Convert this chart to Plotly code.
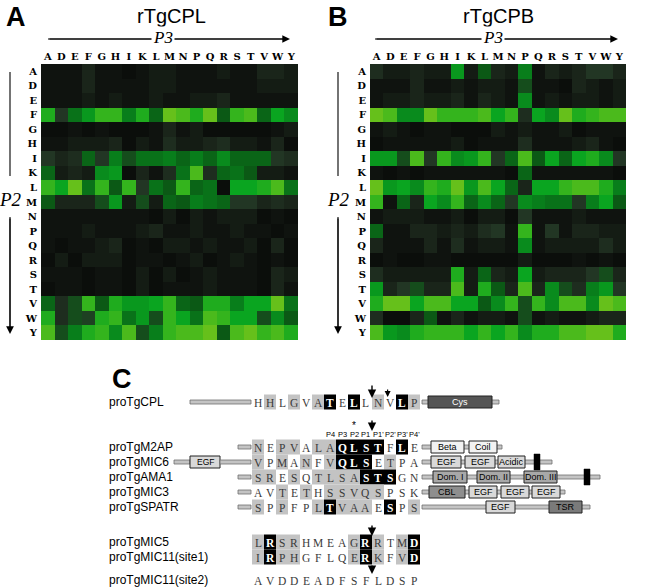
import plotly.graph_objects as go

W, H = 650, 588

AA = list("ADEFGHIKLMNPQRSTVWY")

# rTgCPL activity (rows = P2, columns = P3), relative intensity 0-10
cpl = [
    [1, 1, 1, 2, 1, 1, 0.5, 1, 1.5, 1.5, 1, 1, 1, 1.5, 1, 1, 2, 2, 1.5],
    [1, 1, 1, 2, 1, 1, 1, 1, 1.5, 1.5, 1, 1, 1, 1, 1, 1, 1.5, 1.5, 1.5],
    [1, 1, 1, 1.5, 1, 1.5, 1, 1, 1.5, 1, 1, 1.5, 1.5, 2, 1, 1, 1, 1, 1],
    [8, 3, 5.5, 7, 8.5, 8.5, 6, 8, 5, 9.5, 9, 8, 9.5, 4.5, 8.5, 9, 5, 7.5, 6.5],
    [0.5, 0.5, 1, 0.5, 1, 0.5, 0.5, 0.5, 1, 2, 1, 1.5, 0.5, 0.5, 0.5, 0.5, 0.5, 1, 1.5],
    [1, 1, 1.5, 1.5, 1.5, 2, 0.5, 1.5, 1, 2.5, 1.5, 1.5, 2, 2.5, 1.5, 1.5, 1, 2, 0.5],
    [3, 2, 2.5, 5, 3, 6, 4, 5.5, 5.5, 6, 5, 6, 5, 6.5, 5, 5, 5, 3, 2.5],
    [5, 1.5, 2, 1.5, 6.5, 7, 0.5, 2, 1, 2.5, 5.5, 9, 2.5, 5, 5.5, 4.5, 1.5, 1.5, 1],
    [8.5, 7.5, 9.5, 5.5, 8.5, 4.5, 8.5, 3, 5.5, 4.5, 8.5, 5, 5.5, 0.5, 7.5, 7.5, 8, 9, 5.5],
    [4.5, 2, 2, 2, 4, 7, 1.5, 4, 1.5, 5, 4.5, 6, 5.5, 5, 3, 3, 2, 2.5, 2],
    [1, 1, 1, 1, 1, 1, 1, 1, 0.5, 1.5, 0.5, 1.5, 1, 1.5, 1.5, 1.5, 0.5, 1, 0.5],
    [1, 1, 1, 1.5, 1, 1, 1, 1.5, 2, 1, 1, 1.5, 1, 1, 1.5, 1, 1, 0.5, 1],
    [1, 0.5, 1, 1, 1.5, 2, 0.5, 1, 0.5, 1.5, 1.5, 1, 1.5, 1, 1, 1.5, 0.5, 2, 0.5],
    [0.5, 1.5, 0.5, 1.5, 1.5, 1.5, 0.5, 1, 1, 0.5, 1, 1.5, 0.5, 1, 1.5, 1, 0.5, 1, 0.5],
    [1, 1, 1, 0.5, 1, 1, 0.5, 1.5, 0.5, 1.5, 0.5, 1, 1.5, 1, 1, 1, 0.5, 2, 1.5],
    [0.5, 1, 1, 0.5, 1, 1, 0.5, 1.5, 0.5, 1, 1, 1, 1.5, 1, 1, 1, 0.5, 2, 1],
    [5, 2.5, 4, 8.5, 4.5, 8, 7, 7, 7.5, 8.5, 5, 4.5, 8, 8, 6, 7.5, 7.5, 9.5, 5.5],
    [8, 2.5, 4, 3.5, 8, 8.5, 5.5, 7, 4, 8.5, 7.5, 5.5, 9, 8.5, 7.5, 7.5, 4, 6.5, 4.5],
    [9, 4, 6, 8, 8.5, 6.5, 9, 4, 6, 8.5, 9, 9, 9.5, 4.5, 9, 9.5, 8.5, 9, 8],
]

# rTgCPB activity
cpb = [
    [2.5, 1.5, 1.5, 2, 1.5, 1.5, 7, 1.5, 4.5, 2, 1.5, 6, 1, 2, 1.5, 2, 3, 3, 2],
    [1, 1, 1, 2, 1, 1, 1.5, 1, 1.5, 1.5, 1, 4, 1, 1, 0.5, 2, 1.5, 1, 1.5],
    [1, 1.5, 1.5, 2, 1.5, 1.5, 2, 1, 2, 1.5, 1, 6.5, 1, 1.5, 1, 1.5, 1.5, 1, 1.5],
    [9.5, 9, 6.5, 6.5, 9.5, 8.5, 8.5, 8.5, 9, 7.5, 8.5, 2.5, 7.5, 6.5, 9.5, 8, 8.5, 9, 9],
    [1, 1.5, 1, 0.5, 1, 1, 0.5, 0.5, 0.5, 1.5, 1, 1.5, 1, 1, 1.5, 0.5, 1, 1, 1],
    [0.5, 1, 1, 1, 1, 1, 1.5, 0.5, 1, 1, 1, 2.5, 1, 1, 1, 1.5, 2, 1, 0.5],
    [7, 7, 4, 9, 3, 8.5, 6.5, 7, 8.5, 3, 5, 9, 4.5, 7.5, 5, 7.5, 8, 6.5, 3],
    [1, 0.5, 1, 0.5, 1, 1, 1, 1, 1, 1, 0.5, 5, 1, 1, 1, 1, 1, 1, 0.5],
    [9.5, 7, 7.5, 6.5, 8.5, 8, 9.5, 7, 9, 7.5, 5, 2, 7.5, 7.5, 8.5, 9, 9, 8, 6],
    [8.5, 1, 5, 2, 7.5, 6.5, 8.5, 5, 6.5, 5, 3, 6.5, 6, 5.5, 5.5, 3, 6, 7.5, 4.5],
    [1, 1.5, 1.5, 1.5, 1, 1, 1.5, 0.5, 1.5, 1.5, 0.5, 3, 1, 1, 1, 1.5, 1, 1, 1],
    [5, 1, 1, 2, 2, 1.5, 2, 1.5, 2.5, 3, 1, 8.5, 1, 3, 1, 2, 2, 1.5, 1.5],
    [2, 1, 1, 1, 2, 1, 2.5, 1, 1.5, 1.5, 1, 6.5, 1, 1.5, 1.5, 1.5, 1.5, 2.5, 1.5],
    [0.5, 1, 0.5, 0.5, 1, 1, 0.5, 0.5, 0.5, 0.5, 0.5, 1.5, 0.5, 0.5, 0.5, 1, 0.5, 1, 0.5],
    [2.5, 1.5, 1.5, 1.5, 1.5, 1.5, 8, 1.5, 5, 2, 1.5, 7.5, 1.5, 2, 2, 2, 3, 4, 2],
    [7, 2, 3, 4, 2, 2, 9, 1.5, 8, 4.5, 2, 9, 2, 6.5, 4, 2.5, 6, 7, 3],
    [8, 9.5, 9.5, 7.5, 9, 9, 7.5, 7.5, 4.5, 6.5, 8.5, 4, 8.5, 6.5, 9, 9, 6.5, 9.5, 9],
    [2.5, 0.5, 0.5, 2, 4.5, 1, 2, 1, 1.5, 1.5, 1, 4, 1, 1.5, 1, 1, 1.5, 2, 2],
    [9, 7, 6.5, 8, 8.5, 8.5, 8.5, 7.5, 8.5, 7.5, 8.5, 6.5, 8, 8, 9, 9, 9.5, 9.5, 8],
]

# Panel C: sequences and shading (g = similar, b = identical, n = none)
seq_names = ["proTgCPL", "proTgM2AP", "proTgMIC6", "proTgAMA1", "proTgMIC3",
             "proTgSPATR", "proTgMIC5", "proTgMIC11(site1)", "proTgMIC11(site2)"]
seq_letters = ["HHLGVATELLNVLP", "NEPVALAQLSTFLE", "VPMANFVQLSETPA",
               "SRESQTLSASTSGN", "AVTETHSSVQSPSK", "SPPFPLTVAAESPS",
               "LRSRHMEAGRRTMD", "IRPHGFLQERKFVD", "AVDDEADFSFLDSP"]
seq_shading = ["ngngngbnbngnbg", "gnggnggbbbbnbn", "gngngngbbbngnn",
               "ggngnggggbbbnn", "nngngngggggnnn", "gngnngbgggnbng",
               "gbggnnnngbgngb", "gbggnnnngbgngb", "nnnnnnnnnnnnnn"]
site_labels = ["P4", "P3", "P2", "P1", "P1'", "P2'", "P3'", "P4'"]

# Domain diagrams: (label, start, end, kind)
domains = {
    "proTgCPL": [("Cys", 428, 492, "dark")],
    "proTgM2AP": [("Beta", 431, 464, "white"), ("Coil", 469, 497, "white")],
    "proTgMIC6": [("EGF", 431, 461, "light"), ("EGF", 465, 495, "light"),
                  ("Acidic", 498, 525, "light"), ("", 534, 540, "tm")],
    "proTgAMA1": [("Dom. I", 433, 467, "mid"), ("Dom. II", 477, 510, "mid"),
                  ("Dom. III", 524, 557, "mid"), ("", 584, 590, "tm")],
    "proTgMIC3": [("CBL", 429, 465, "middark"), ("EGF", 469, 497, "light"),
                  ("EGF", 501, 529, "light"), ("EGF", 532, 560, "light")],
    "proTgSPATR": [("EGF", 486, 515, "light"), ("TSR", 549, 582, "dark2")],
}
tail_end = {"proTgCPL": 499, "proTgM2AP": 502, "proTgMIC6": 552,
            "proTgAMA1": 600, "proTgMIC3": 565, "proTgSPATR": 590}

# ---------------------------------------------------------------
def px(x):
    return x / W


def py(y):
    return 1 - y / H


colorscale = [
    [0.0, "#070907"], [0.1, "#0f130f"], [0.22, "#1c281c"], [0.32, "#243a26"],
    [0.45, "#0b5915"], [0.6, "#087e1b"], [0.75, "#0aa520"], [0.88, "#40b81c"],
    [1.0, "#82c51a"],
]

fig = go.Figure()
fig.add_trace(go.Heatmap(z=cpl, x=AA, y=AA, colorscale=colorscale, zmin=0, zmax=10,
                         showscale=False, xaxis="x", yaxis="y", hoverinfo="skip"))
fig.add_trace(go.Heatmap(z=cpb, x=AA, y=AA, colorscale=colorscale, zmin=0, zmax=10,
                         showscale=False, xaxis="x2", yaxis="y2", hoverinfo="skip"))

tickfont = dict(family="DejaVu Serif", size=10, color="black", weight="bold")
axcommon = dict(showgrid=False, zeroline=False, ticks="", tickfont=tickfont,
                type="category", showline=False)

hx0, hx1 = 41, 298
bx0, bx1 = 370, 626
hy0, hy1 = 64, 340

fig.update_layout(
    width=W, height=H, autosize=False,
    margin=dict(l=0, r=0, t=0, b=0),
    paper_bgcolor="white", plot_bgcolor="white",
    xaxis=dict(domain=[px(hx0), px(hx1)], anchor="y", side="top",
               ticklabelstandoff=1, **axcommon),
    yaxis=dict(domain=[py(hy1), py(hy0)], anchor="x", autorange="reversed",
               ticklabelstandoff=3, **axcommon),
    xaxis2=dict(domain=[px(bx0), px(bx1)], anchor="y2", side="top",
                ticklabelstandoff=1, **axcommon),
    yaxis2=dict(domain=[py(hy1), py(hy0)], anchor="x2", autorange="reversed",
                ticklabelstandoff=3, **axcommon),
    showlegend=False,
)

ann = []
shapes = []


def text(x, y, s, size=12, family="Liberation Sans", color="black", xanchor="center",
         bold=False, italic=False, bg=None):
    d = dict(x=px(x), y=py(y), xref="paper", yref="paper", text=s, showarrow=False,
             xanchor=xanchor, yanchor="middle",
             font=dict(size=size, family=family, color=color,
                       weight="bold" if bold else "normal",
                       style="italic" if italic else "normal"))
    if bg:
        d["bgcolor"] = bg
    ann.append(d)


def arrow(x, y_tail, y_head, width=1.5, size=1.0, xt=None):
    xt = x if xt is None else xt
    ann.append(dict(x=px(x), y=py(y_head), xref="paper", yref="paper",
                    ax=(xt - x), ay=(y_tail - y_head), axref="pixel", ayref="pixel",
                    text="", showarrow=True, arrowhead=2, arrowsize=size,
                    arrowwidth=width, arrowcolor="black"))


def hline(x0, x1, y, width=1.2):
    shapes.append(dict(type="line", xref="paper", yref="paper", x0=px(x0), x1=px(x1),
                       y0=py(y), y1=py(y), line=dict(color="black", width=width)))


def vline(x, y0, y1, width=1.2):
    shapes.append(dict(type="line", xref="paper", yref="paper", x0=px(x), x1=px(x),
                       y0=py(y0), y1=py(y1), line=dict(color="black", width=width)))


def rect(x0, x1, y0, y1, fill, lc="#333333", lw=1):
    shapes.append(dict(type="rect", xref="paper", yref="paper", x0=px(x0), x1=px(x1),
                       y0=py(y1), y1=py(y0), fillcolor=fill,
                       line=dict(color=lc, width=lw), layer="below"))


def dline(x0, x1, y):
    rect(x0, x1, y - 2, y + 2, "#c4c4c4", lc="#707070", lw=0.8)


# Panel letters and titles
text(16, 17, "A", size=27, bold=True)
text(338, 17, "B", size=27, bold=True)
text(171, 16, "rTgCPL", size=20)
text(498, 16, "rTgCPB", size=20)

# P3 arrows
for (x0, x1, xc) in [(48, 290, 163), (375, 618, 493)]:
    hline(x0, x1 - 6, 39, width=1)
    arrow(x1, 39, 39, width=1.1, size=1.4, xt=x0)
    text(xc, 38, "P3", size=17, family="Liberation Serif", italic=True, bg="white")

# P2 arrows
for xv in [10, 338]:
    vline(xv, 72, 176, width=1.1)
    vline(xv, 217, 328, width=1.1)
    arrow(xv, 217, 334, width=1.1, size=1.4)
    text(xv, 200, "P2", size=19, family="Liberation Serif", italic=True)

# Panel C
text(122, 379, "C", size=27, bold=True)

row_y = [402, 447, 462, 477, 492, 507, 542, 557, 580]
col_x0, col_dx = 258, 12
cw, ch = 12, 15

for name, letters, shade, yy in zip(seq_names, seq_letters, seq_shading, row_y):
    text(107, yy, name, size=12, xanchor="left")
    for i, (ch_, sh) in enumerate(zip(letters, shade)):
        xc = col_x0 + col_dx * i
        if sh == "g":
            rect(xc - cw / 2, xc + cw / 2, yy - ch / 2, yy + ch / 2, "#c3c3c3", lc="#c3c3c3", lw=0)
        elif sh == "b":
            rect(xc - cw / 2, xc + cw / 2, yy - ch / 2, yy + ch / 2, "#000000", lc="#000000", lw=0)
        text(xc, yy + 0.5, ch_, size=11.5, family="Liberation Serif",
             color="white" if sh == "b" else "#3a3a3a", bold=(sh == "b"))

fills = {"dark": "#555555", "white": "#f2f2f2", "light": "#d9d9d9", "mid": "#a8a8a8",
         "middark": "#8e8e8e", "dark2": "#7a7a7a", "tm": "#000000"}
last = col_x0 + col_dx * 13 + cw / 2
for name, yy in zip(seq_names, row_y):
    if name not in domains:
        continue
    dline(last + 2, tail_end[name], yy)
    for (lab, a, b, kind) in domains[name]:
        if kind == "tm":
            rect(a, b, yy - 8, yy + 8, "#000000", lc="#000000", lw=0.5)
        else:
            rect(a, b, yy - 6, yy + 6, fills[kind], lc="#222222", lw=1)
            text((a + b) / 2, yy, lab, size=9,
                 color="white" if kind == "dark" else "black")

# lead-in double lines
first = col_x0 - cw / 2
dline(190, first - 1, row_y[0])
for yy in [row_y[1], row_y[3], row_y[4], row_y[5]]:
    dline(238, first - 1, yy)
dline(174, 190, row_y[2])
rect(190, 220, row_y[2] - 6, row_y[2] + 6, "#d9d9d9", lc="#222222", lw=1)
text(205, row_y[2], "EGF", size=8.5)
dline(220, first - 1, row_y[2])

# cleavage arrows
cut_x = col_x0 + col_dx * 9.5
arrow(cut_x, 384, 398, width=1.4, size=1.2)
arrow(cut_x + col_dx * 1.3, 388, 397, width=1.2, size=1.0)
arrow(cut_x, 419, 431, width=1.4, size=1.2)
arrow(cut_x, 524, 536, width=1.4, size=1.2)
arrow(cut_x, 564, 574, width=1.4, size=1.2)

# site labels & asterisk
for i, lab in enumerate(site_labels):
    text(col_x0 + col_dx * (6 + i), 434, lab, size=7.5, color="black")
text(col_x0 + col_dx * 8, 425, "*", size=10)

fig.update_layout(annotations=ann, shapes=shapes)
fig.write_html("out.html", config={"displayModeBar": False},
               post_script="document.body.style.margin='0px';")
